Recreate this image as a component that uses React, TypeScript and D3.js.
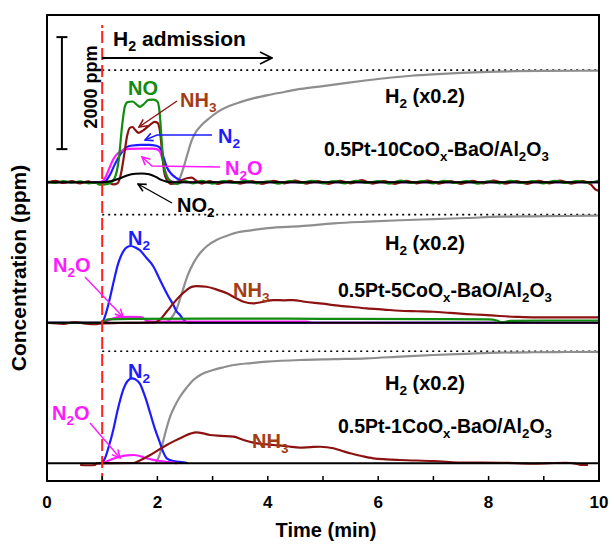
import React from "react";
import * as d3 from "d3";

type Pt = [number, number];

// time axis (min)
const timeTicks = [1, 2, 3, 4, 5, 6, 7, 8, 9];
const timeLabels = [0, 2, 4, 6, 8, 10];

// vertical offsets of the three stacked panels (ppm) and H2 feed level (x0.2)
const panelOffsets = [5020, 2510, 0];
const h2Feed = [2000, 1930, 2000];
const sampleNames = ["0.5Pt-10CoO_x-BaO/Al_2O_3", "0.5Pt-5CoO_x-BaO/Al_2O_3", "0.5Pt-1CoO_x-BaO/Al_2O_3"];

// ---- panel 1 : 0.5Pt-10CoOx ----
const p1H2: Pt[] = [[2.33, 0], [2.4, 60], [2.47, 250], [2.55, 520], [2.62, 740], [2.7, 900], [2.8, 1020], [2.95, 1150], [3.1, 1260], [3.3, 1360], [3.5, 1430], [3.75, 1500], [4.0, 1555], [4.3, 1610], [4.6, 1665], [5.0, 1715], [5.4, 1770], [5.8, 1820], [6.2, 1865], [6.6, 1900], [7.0, 1925], [7.5, 1950], [8.0, 1970], [8.5, 1982], [9.0, 1988], [10, 1990]];
const p1NO: Pt[] = [[0, 10], [0.15, -15], [0.3, 20], [0.45, -10], [0.6, 15], [0.75, -20], [0.88, -5], [0.95, -45], [1.05, -40], [1.15, -10], [1.22, 60], [1.3, 400], [1.36, 1000], [1.41, 1350], [1.46, 1430], [1.55, 1440], [1.62, 1390], [1.68, 1345], [1.75, 1390], [1.84, 1470], [1.93, 1475], [2.0, 1440], [2.04, 1250], [2.08, 700], [2.12, 250], [2.18, 80], [2.25, 10], [2.35, -30], [2.5, 20], [2.65, -20], [2.8, 25], [3.0, -25], [3.2, 20], [3.4, -15], [3.6, 25], [3.8, -20], [4.0, 15], [4.2, -25], [4.4, 20], [4.6, -15], [4.8, 25], [5.0, -20], [5.2, 20], [5.4, -20], [5.6, 25], [5.8, -15], [6.0, 20], [6.2, -25], [6.4, 30], [6.6, -15], [6.8, 20], [7.0, -20], [7.2, 25], [7.4, -15], [7.6, 20], [7.8, -25], [8.0, 15], [8.2, -20], [8.4, 25], [8.6, -15], [8.8, 20], [9.0, -20], [9.2, 25], [9.4, -15], [9.6, 20], [9.8, -10], [10, 30]];
const p1NH3: Pt[] = [[0, -10], [0.15, 25], [0.3, -15], [0.45, 20], [0.6, -20], [0.75, 15], [0.85, -15], [1.0, -10], [1.1, 0], [1.2, -40], [1.28, -20], [1.34, 150], [1.4, 500], [1.45, 820], [1.5, 970], [1.55, 985], [1.6, 930], [1.66, 880], [1.75, 930], [1.85, 1010], [1.95, 1075], [2.0, 1060], [2.04, 950], [2.08, 600], [2.12, 200], [2.17, 40], [2.25, -30], [2.35, -20], [2.45, 40], [2.55, 75], [2.62, 80], [2.7, 30], [2.8, -25], [2.95, 20], [3.1, -30], [3.3, 25], [3.5, -25], [3.7, 20], [3.9, -30], [4.1, 25], [4.3, -20], [4.5, 30], [4.7, -25], [4.9, 20], [5.1, -30], [5.3, 25], [5.5, -20], [5.7, 35], [5.9, -25], [6.1, 20], [6.3, -30], [6.5, 25], [6.7, -20], [6.9, 30], [7.1, -25], [7.3, 20], [7.5, -30], [7.7, 25], [7.9, -20], [8.1, 30], [8.3, -25], [8.5, 20], [8.7, -30], [8.9, 25], [9.1, -20], [9.3, 30], [9.5, -25], [9.7, 20], [9.85, -40], [9.95, -140], [10, -150]];
const p1N2: Pt[] = [[0, 0], [1.0, 0], [1.08, 40], [1.15, 150], [1.22, 300], [1.3, 450], [1.38, 570], [1.45, 630], [1.55, 655], [1.7, 665], [1.85, 665], [1.98, 650], [2.05, 610], [2.1, 480], [2.17, 270], [2.25, 150], [2.35, 70], [2.45, 20], [2.52, 0], [10, 0]];
const p1N2O: Pt[] = [[0, 0], [0.95, 0], [1.02, 30], [1.08, 130], [1.15, 300], [1.22, 440], [1.3, 530], [1.4, 580], [1.5, 595], [1.7, 600], [1.9, 598], [2.0, 585], [2.05, 540], [2.1, 380], [2.15, 170], [2.2, 60], [2.27, 10], [2.35, 0], [10, 0]];
const p1NO2: Pt[] = [[0, 0], [1.0, 0], [1.15, 15], [1.3, 60], [1.45, 120], [1.6, 150], [1.72, 155], [1.85, 140], [1.97, 95], [2.07, 40], [2.17, 8], [2.25, 0], [10, 0]];

// ---- panel 2 : 0.5Pt-5CoOx ----
const p2H2: Pt[] = [[2.15, 0], [2.25, 80], [2.35, 250], [2.45, 550], [2.55, 850], [2.65, 1060], [2.77, 1240], [2.9, 1370], [3.07, 1477], [3.25, 1550], [3.4, 1600], [3.7, 1650], [4.0, 1690], [4.6, 1725], [5.2, 1775], [5.8, 1805], [6.4, 1830], [7.0, 1850], [7.6, 1870], [8.2, 1893], [8.8, 1900], [9.4, 1906], [10, 1915]];
const p2N2: Pt[] = [[0, 0], [0.98, 0], [1.03, 60], [1.1, 280], [1.2, 700], [1.29, 1060], [1.38, 1270], [1.45, 1350], [1.52, 1370], [1.6, 1345], [1.68, 1295], [1.8, 1160], [1.93, 1000], [2.02, 820], [2.11, 640], [2.2, 470], [2.29, 316], [2.35, 200], [2.41, 137], [2.46, 70], [2.52, 15], [2.58, 0], [10, 0]];
const p2NH3: Pt[] = [[0, 0], [0.3, -20], [0.5, 10], [0.7, -15], [0.9, -25], [1.0, -10], [1.3, -5], [1.7, 0], [1.95, 5], [2.05, 60], [2.17, 200], [2.29, 346], [2.4, 470], [2.53, 584], [2.62, 640], [2.71, 655], [2.89, 643], [3.05, 600], [3.26, 525], [3.42, 440], [3.56, 375], [3.74, 346], [3.9, 370], [4.1, 405], [4.3, 400], [4.46, 405], [4.67, 375], [5.0, 340], [5.19, 316], [5.5, 285], [5.79, 257], [6.1, 235], [6.39, 214], [6.7, 205], [7.0, 196], [7.3, 175], [7.6, 155], [7.9, 140], [8.2, 120], [8.5, 105], [8.8, 96], [9.4, 96], [10, 96]];
const p2NO: Pt[] = [[0, 0], [1.0, 0], [1.1, 60], [1.5, 70], [3.0, 75], [5.0, 70], [7.0, 65], [8.0, 60], [8.15, 40], [8.25, 5], [8.4, 35], [9.0, 40], [10, 40]];
const p2N2O: Pt[] = [[0, 0], [1.0, 0], [1.15, 60], [1.3, 100], [1.5, 105], [1.7, 100], [1.8, 40], [1.9, 20], [4.7, 20], [4.8, 0], [10, 0]];
const p2NO2: Pt[] = [[0, 0], [10, 0]];

// ---- panel 3 : 0.5Pt-1CoOx ----
const p3H2: Pt[] = [[1.97, 0], [2.04, 150], [2.11, 416], [2.17, 640], [2.23, 832], [2.32, 1030], [2.41, 1189], [2.53, 1350], [2.65, 1487], [2.8, 1590], [3.01, 1666], [3.2, 1715], [3.38, 1755], [3.7, 1790], [3.98, 1814], [4.58, 1845], [5.2, 1860], [5.79, 1875], [6.4, 1905], [7.0, 1934], [7.6, 1955], [8.2, 1975], [8.8, 1983], [9.42, 1987], [10, 1990]];
const p3N2: Pt[] = [[0.9, 0], [0.98, 5], [1.05, 89], [1.12, 300], [1.2, 595], [1.28, 950], [1.38, 1309], [1.46, 1470], [1.54, 1518], [1.6, 1500], [1.68, 1428], [1.78, 1180], [1.87, 893], [1.96, 600], [2.05, 357], [2.11, 190], [2.17, 89], [2.29, 40], [2.4, 25], [2.5, 15], [2.55, 0]];
const p3N2O: Pt[] = [[1.0, 0], [1.1, 40], [1.2, 80], [1.32, 118], [1.45, 140], [1.56, 148], [1.68, 130], [1.8, 89], [1.92, 60], [2.05, 40], [2.15, 25], [2.25, 15], [2.35, 0]];
const p3NH3: Pt[] = [[0.6, -30], [0.75, -35], [0.87, -30], [0.9, 0], [1.56, 5], [1.7, 60], [1.87, 148], [2.02, 240], [2.17, 327], [2.32, 405], [2.47, 475], [2.6, 530], [2.71, 553], [2.83, 535], [2.95, 505], [3.15, 490], [3.38, 475], [3.55, 420], [3.74, 368], [3.9, 345], [4.1, 327], [4.35, 305], [4.58, 280], [4.78, 290], [4.95, 296], [5.19, 268], [5.35, 220], [5.49, 179], [5.7, 130], [5.91, 89], [6.15, 70], [6.39, 59], [7.0, 41], [7.6, 11], [8.2, 10], [8.8, -5], [9.4, 10], [9.6, -10], [9.7, -30], [9.8, -30]];
const p3NO2: Pt[] = [[0, 0], [10, 0]];

const C = {
  green: "#118c11",
  brown: "#8c1212",
  brownText: "#a43c14",
  blue: "#1c1cff",
  magenta: "#ff19ff",
  gray: "#8e8e8e",
  red: "#ff2020",
};

const FONT = "Arial, 'Liberation Sans', Helvetica, sans-serif";

// text with "_" marking one subscript char
function Chem({ s, fs }: { s: string; fs: number }) {
  const out: React.ReactNode[] = [];
  const sh = fs * 0.24;
  let sub = false;
  let i = 0;
  let k = 0;
  let buf = "";
  while (i < s.length) {
    if (s[i] === "_") {
      if (buf) {
        out.push(<tspan key={k++} dy={sub ? -sh : 0}>{buf}</tspan>);
        buf = "";
      }
      out.push(<tspan key={k++} fontSize={fs * 0.68} dy={sh}>{s[i + 1]}</tspan>);
      sub = true;
      i += 2;
      continue;
    }
    buf += s[i];
    if (sub) {
      out.push(<tspan key={k++} dy={-sh}>{buf}</tspan>);
      buf = "";
      sub = false;
    }
    i++;
  }
  if (buf) out.push(<tspan key={k++}>{buf}</tspan>);
  return <>{out}</>;
}

function Label({ x, y, s, fs = 20, color = "#000", anchor = "start" }: any) {
  return (
    <text x={x} y={y} fontSize={fs} fontWeight="bold" fill={color} fontFamily={FONT} textAnchor={anchor}>
      <Chem s={s} fs={fs} />
    </text>
  );
}

export default function App() {
  const W = 610;
  const H = 544;
  const x = d3.scaleLinear().domain([0, 10]).range([47, 599]);
  const y = d3.scaleLinear().domain([-316, 8005]).range([481, 15]);

  const path = (data: Pt[], off: number) =>
    d3
      .line<Pt>()
      .x((d) => x(d[0]))
      .y((d) => y(d[1] + off))
      .curve(d3.curveMonotoneX)(data) || "";

  const panels = [
    { h2: p1H2, n2: p1N2, n2o: p1N2O, nh3: p1NH3, no: p1NO, no2: p1NO2 },
    { h2: p2H2, n2: p2N2, n2o: p2N2O, nh3: p2NH3, no: p2NO, no2: p2NO2 },
    { h2: p3H2, n2: p3N2, n2o: p3N2O, nh3: p3NH3, no: null, no2: p3NO2 },
  ];

  const sw = 2.2;
  const barT = 0.27;
  const barOff = panelOffsets[0];
  const redDash = "3 3 " + Array(30).fill("12 5").join(" ");

  return (
    <svg width={W} height={H} style={{ position: "absolute", left: 0, top: 0, background: "#fff" }}>
      <defs>
        {Object.entries({ k: "#000", b: C.blue, m: C.magenta, r: C.brown }).map(([id, col]) => (
          <marker key={id} id={"ah-" + id} viewBox="0 0 10 10" refX="9" refY="5" markerWidth="7" markerHeight="7" orient="auto">
            <path d="M1,1 L9,5 L1,9" fill="none" stroke={col} strokeWidth={1.6} />
          </marker>
        ))}
        <marker id="ah-big" viewBox="0 0 14 14" refX="13" refY="7" markerWidth="7" markerHeight="7" orient="auto">
          <path d="M1,1 L13,7 L1,13" fill="none" stroke="#000" strokeWidth={1.6} />
        </marker>
      </defs>

      {/* panels */}
      {panels.map((p, i) => {
        const off = panelOffsets[i];
        return (
          <g key={i} fill="none" strokeWidth={sw} strokeLinejoin="round">
            <line x1={x(1)} x2={x(10)} y1={y(off + h2Feed[i])} y2={y(off + h2Feed[i])} stroke="#000" strokeWidth={1.6} strokeDasharray="2 4" />
            <path d={path(p.h2, off)} stroke={C.gray} />
            <path d={path(p.n2, off)} stroke={C.blue} />
            <path d={path(p.n2o, off)} stroke={C.magenta} />
            <path d={path(p.nh3, off)} stroke={C.brown} />
            {p.no && <path d={path(p.no, off)} stroke={C.green} />}
            <path d={path(p.no2, off)} stroke="#000" strokeWidth={2} />
          </g>
        );
      })}

      {/* H2 admission marker */}
      <line x1={x(1)} x2={x(1)} y1={25} y2={481} stroke={C.red} strokeWidth={2} strokeDasharray={redDash} />
      <line x1={x(1)} x2={272} y1={58} y2={58} stroke="#000" strokeWidth={2} markerEnd="url(#ah-big)" />
      <Label x={113} y={46} s="H_2 admission" fs={21} />

      {/* scale bar */}
      <g stroke="#000" strokeWidth={2}>
        <line x1={x(barT)} x2={x(barT)} y1={y(barOff + 590)} y2={y(barOff + 2590)} />
        <line x1={x(barT) - 5.5} x2={x(barT) + 5.5} y1={y(barOff + 590)} y2={y(barOff + 590)} />
        <line x1={x(barT) - 5.5} x2={x(barT) + 5.5} y1={y(barOff + 2590)} y2={y(barOff + 2590)} />
      </g>
      <text transform="translate(97,87) rotate(-90)" textAnchor="middle" fontSize={18} fontWeight="bold" fontFamily={FONT}>
        2000 ppm
      </text>

      {/* panel 1 annotations */}
      <Label x={143} y={95} s="NO" color={C.green} anchor="middle" />
      <Label x={180} y={107} s="NH_3" color={C.brownText} />
      <line x1={177} y1={101} x2={139} y2={127} stroke={C.brown} strokeWidth={1.4} markerEnd="url(#ah-r)" />
      <Label x={218} y={143} s="N_2" color={C.blue} />
      <polyline points="212,135 157,135 145,140" fill="none" stroke={C.blue} strokeWidth={1.4} markerEnd="url(#ah-b)" />
      <Label x={225} y={175} s="N_2O" color={C.magenta} />
      <polyline points="220,167 152,166 142,157" fill="none" stroke={C.magenta} strokeWidth={1.4} markerEnd="url(#ah-m)" />
      <Label x={177} y={212} s="NO_2" />
      <line x1={172} y1={203} x2={138} y2={184} stroke="#000" strokeWidth={1.4} markerEnd="url(#ah-k)" />

      {/* panel 2 annotations */}
      <Label x={128} y={245} s="N_2" color={C.blue} />
      <Label x={53} y={272} s="N_2O" color={C.magenta} />
      <line x1={85} y1={277} x2={123} y2={317} stroke={C.magenta} strokeWidth={1.4} markerEnd="url(#ah-m)" />
      <Label x={233} y={297} s="NH_3" color={C.brownText} />

      {/* panel 3 annotations */}
      <Label x={128} y={378} s="N_2" color={C.blue} />
      <Label x={52} y={420} s="N_2O" color={C.magenta} />
      <line x1={90} y1={423} x2={120} y2={458} stroke={C.magenta} strokeWidth={1.4} markerEnd="url(#ah-m)" />
      <Label x={252} y={448} s="NH_3" color={C.brownText} />

      {/* H2 and sample labels */}
      {[103, 250, 390].map((yy, i) => (
        <Label key={"h" + i} x={385} y={yy} s="H_2 (x0.2)" />
      ))}
      {[[324, 156], [338, 297], [338, 433]].map(([xx, yy], i) => (
        <Label key={"s" + i} x={xx} y={yy} s={sampleNames[i]} fs={19.5} />
      ))}

      {/* frame and axes */}
      <rect x={47} y={15} width={552} height={466} fill="none" stroke="#000" strokeWidth={2} />
      {timeTicks.map((t) => (
        <line key={t} x1={x(t)} x2={x(t)} y1={481} y2={476} stroke="#000" strokeWidth={1.5} />
      ))}
      {timeLabels.map((t) => (
        <text key={t} x={x(t)} y={508} textAnchor="middle" fontSize={17} fontWeight="bold" fontFamily={FONT}>
          {t}
        </text>
      ))}
      <text x={326} y={537} textAnchor="middle" fontSize={20} fontWeight="bold" fontFamily={FONT}>
        Time (min)
      </text>
      <text transform="translate(26,268) rotate(-90)" textAnchor="middle" fontSize={21} fontWeight="bold" fontFamily={FONT}>
        Concentration (ppm)
      </text>
    </svg>
  );
}
